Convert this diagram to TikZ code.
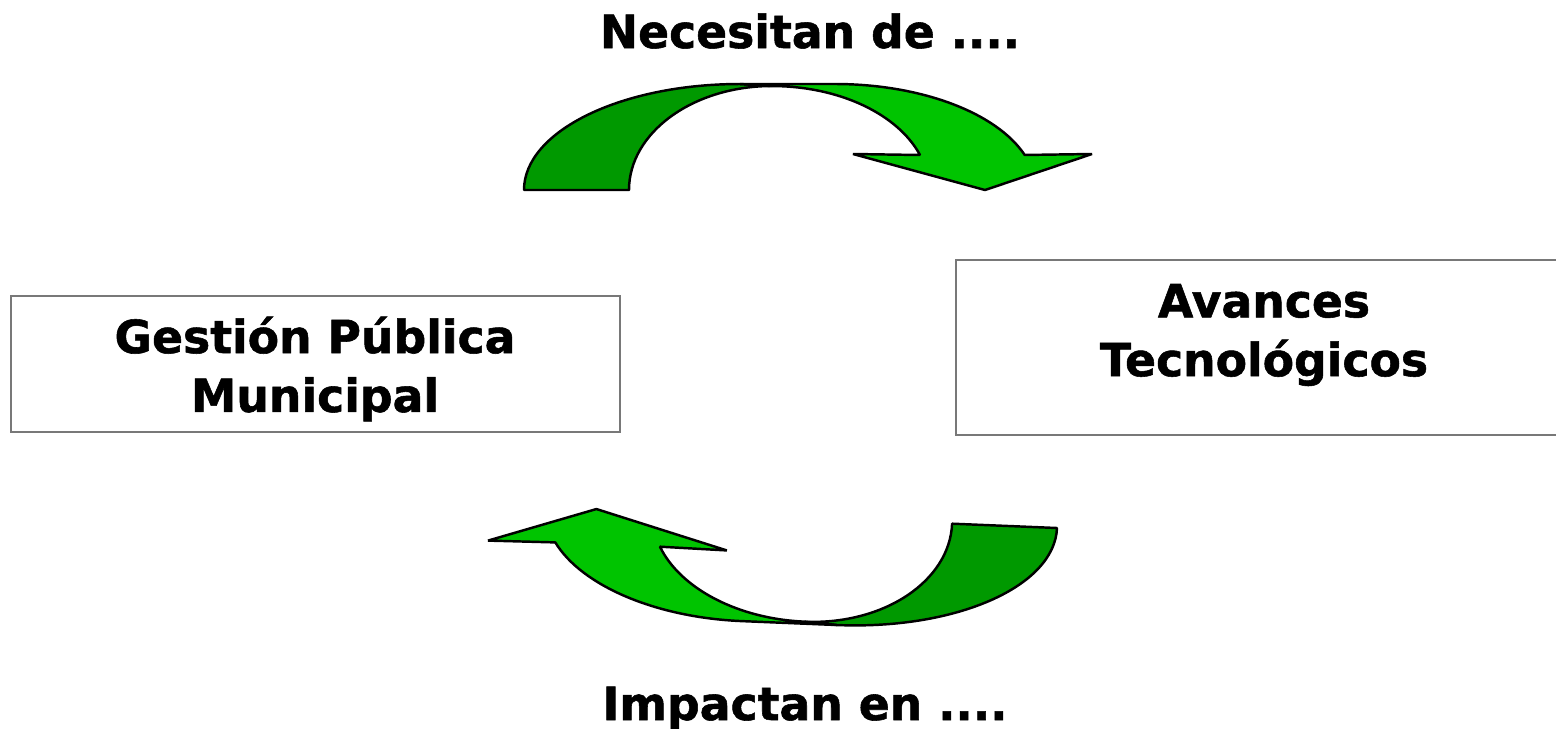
\documentclass[tikz,border=0pt]{standalone}
\usepackage{fontspec}
\setmainfont{DejaVu Sans}[BoldFeatures={FakeBold=1.2}]
\usepackage{tikz}

\definecolor{darkgrn}{RGB}{0,153,0}
\definecolor{lightgrn}{RGB}{0,196,0}
\definecolor{boxgray}{RGB}{120,120,120}

\begin{document}
\begin{tikzpicture}[x=0.02cm, y=-0.02cm,
    lbl/.style={font=\fontsize{26}{33.5}\selectfont\bfseries, align=center, inner sep=0pt},
    frame/.style={draw=boxgray, line width=0.8pt, inner sep=0pt},
    arrowbody/.style={draw=black, line width=1.4pt, line join=bevel},
    greenarrow/.pic={
      \path[arrowbody, fill=darkgrn] (0,0) arc[start angle=180, end angle=270, x radius=216, y radius=106]
        -- (248,-104) arc[start angle=270, end angle=180, x radius=143, y radius=104] -- cycle;
      \path[arrowbody, fill=lightgrn] (216,-106) -- (311,-106)
        arc[start angle=270, end angle=340.7, x radius=201, y radius=106]
        -- (568,-36) -- (461,0) -- (329,-36) -- (396,-35)
        arc[start angle=340.3, end angle=270, x radius=157, y radius=104] -- cycle;
    }]

    \useasboundingbox (0,0) rectangle (1556,728);

    \node[frame, minimum width=12.18cm, minimum height=2.72cm] (gpmbox) at (315.5, 364) {};
    \node[frame, minimum width=12.2cm, minimum height=3.5cm] (avtbox) at (1261, 347.5) {};
    \node[lbl] (gpm) at (315, 369) {Gestión Pública\\Municipal};
    \node[lbl] (avt) at (1264, 335) {Avances\\Tecnológicos};

    \node[lbl, anchor=base] (nec) at (810, 48) {Necesitan de ....};
    \node[lbl, anchor=base] (imp) at (805, 720) {Impactan en ....};

    \pic at (524, 190) {greenarrow};
    \pic[rotate=177.64] at (1057, 528) {greenarrow};

\end{tikzpicture}
\end{document}
